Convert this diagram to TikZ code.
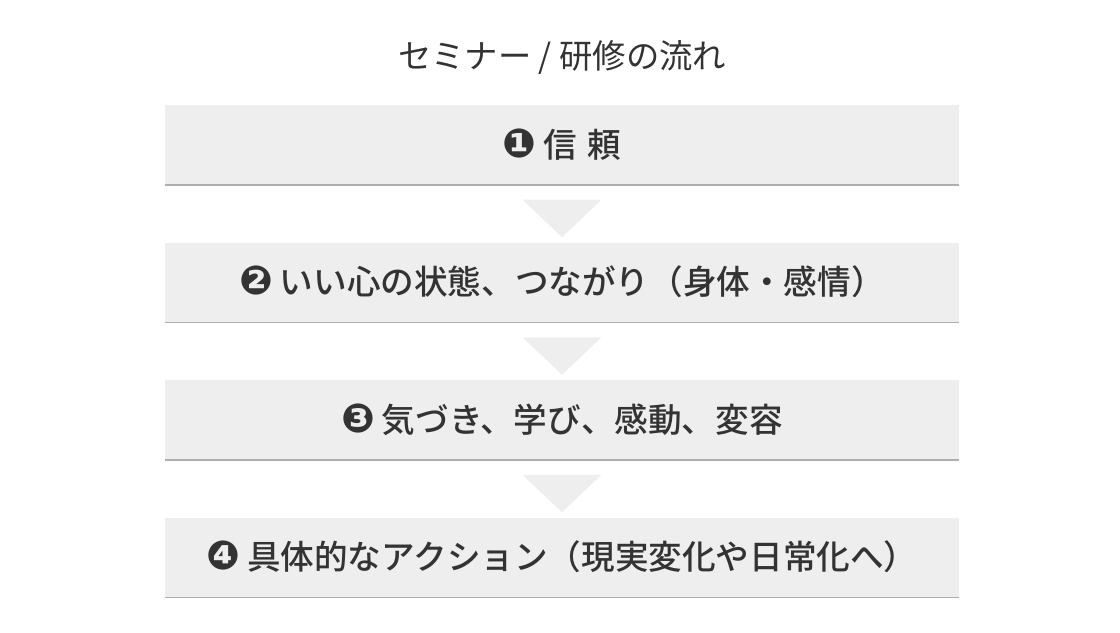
\documentclass[tikz,border=0pt]{standalone}
\usepackage{xcolor}
\usepackage{fontspec}
\setmainfont{Noto Sans CJK JP}[BoldFont={Noto Sans CJK JP Medium}]
\newfontfamily\symfont{DejaVu Sans}
\usepackage{tikz}
\usetikzlibrary{positioning, shadows}
\definecolor{boxgray}{HTML}{EEEEEE}
\definecolor{textgray}{HTML}{333333}
\newcommand{\circnum}[1]{{\symfont\fontsize{30}{32}\selectfont #1}\hspace{5pt}}

\begin{document}
\begin{tikzpicture}[x=0.75pt, y=-0.75pt,
    stagebox/.style={fill=boxgray, minimum width=595.5pt, minimum height=59.25pt,
        inner sep=0pt, text=textgray, font=\bfseries\fontsize{25.2}{28}\selectfont,
        drop shadow={shadow xshift=0pt, shadow yshift=-1.2pt, fill=black!45, opacity=0.7}},
    flowtri/.style={fill=boxgray}]
    \useasboundingbox (0,0) rectangle (1120,632);
    % Title
    \node[text=textgray, font=\fontsize{25}{30}\selectfont] (title) at (562,57) {セミナー / 研修の流れ};
    % Stages
    \node[stagebox] (s1) at (562,144.5) {\circnum{❶}信\hspace{8pt}頼};
    \node[stagebox, below=43.5pt of s1] (s2) {\circnum{❷}いい心の状態、つながり（身体・感情）};
    \node[stagebox, below=43.5pt of s2] (s3) {\circnum{❸}気づき、学び、感動、変容};
    \node[stagebox, below=43.5pt of s3] (s4) {\circnum{❹}具体的なアクション（現実変化や日常化へ）};
    % Triangles between stages
    \foreach \a/\b in {s1/s2, s2/s3, s3/s4}
        \fill[flowtri] ([xshift=-29.6pt, yshift=-11.6pt]\a.south) -- ([xshift=29.6pt, yshift=-11.6pt]\a.south)
            -- ([yshift=3.75pt]\b.north) -- cycle;
\end{tikzpicture}
\end{document}
